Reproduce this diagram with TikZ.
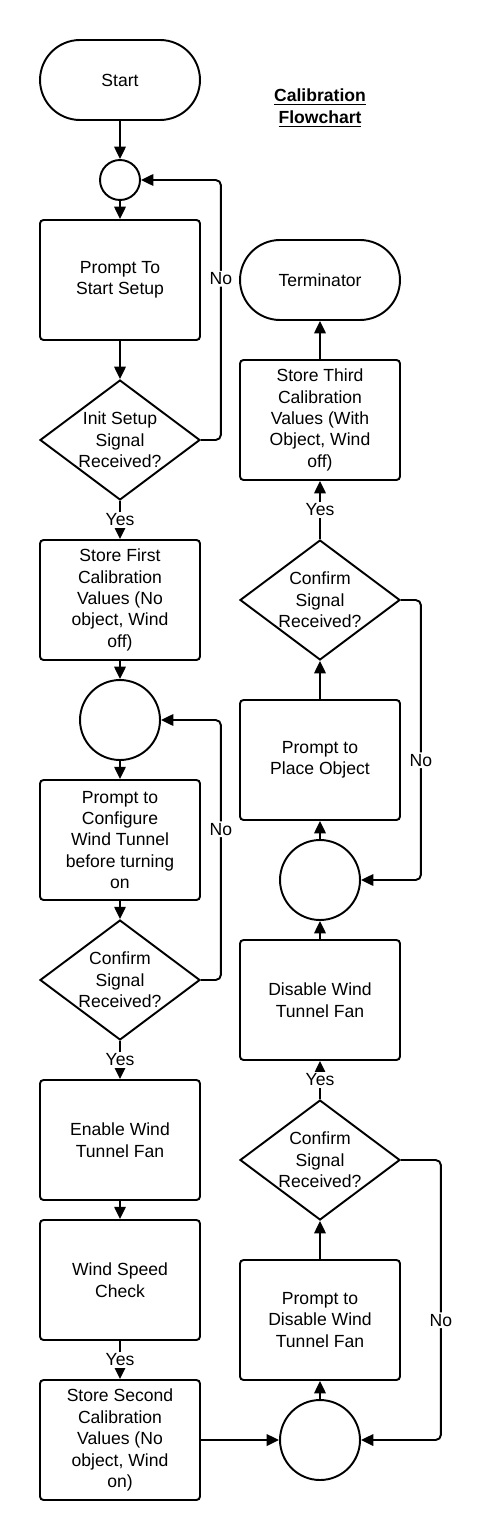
\documentclass[tikz,border=0pt]{standalone}
\usepackage{fontspec}
\setmainfont{Liberation Sans}
\usetikzlibrary{positioning, shapes.geometric, arrows, arrows.meta}

\begin{document}
\begin{tikzpicture}[x=0.02cm, y=-0.02cm, line width=1.1pt,
        every node/.style={font=\fontsize{10}{12.2}\selectfont},
        terminal/.style={draw, rounded corners=0.8cm, minimum width=3.2cm, minimum height=1.6cm},
        process/.style={draw, rounded corners=2pt, minimum width=3.2cm, minimum height=2.4cm, align=center},
        decision/.style={draw, diamond, inner sep=0pt, minimum width=3.2cm, minimum height=2.4cm},
        junction/.style={draw, circle, inner sep=0pt},
        flow/.style={-{Triangle[length=7pt, width=6.5pt]}, rounded corners=3pt},
        tag/.style={fill=white, inner sep=1pt}]
        \useasboundingbox (0, 0) rectangle (491, 1540);

        \node (title) at (320, 108) [align=center] {\textbf{\underline{Calibration}}\\\textbf{\underline{Flowchart}}};

        \node [terminal] (start) at (120, 80) {Start};
        \node [junction, minimum size=0.8cm] (join1) at (120, 180) {};
        \node [process] (prompt) at (120, 280) {Prompt To\\Start Setup};
        \node [decision, label={[align=center]center:Init Setup\\Signal\\Received?}] (init) at (120, 440) {};
        \node [process] (first) at (120, 600) {Store First\\Calibration\\Values (No\\object, Wind\\off)};
        \node [junction, minimum size=1.6cm] (join2) at (120, 720) {};
        \node [process] (config) at (120, 840) {Prompt to\\Configure\\Wind Tunnel\\before turning\\on};
        \node [decision, label={[align=center]center:Confirm\\Signal\\Received?}] (conf1) at (120, 980) {};
        \node [process] (enable) at (120, 1140) {Enable Wind\\Tunnel Fan};
        \node [process] (speed) at (120, 1280) {Wind Speed\\Check};
        \node [process] (second) at (120, 1440) {Store Second\\Calibration\\Values (No\\object, Wind\\on)};

        \node [junction, minimum size=1.6cm] (join3) at (320, 1440) {};
        \node [process] (off) at (320, 1320) {Prompt to\\Disable Wind\\Tunnel Fan};
        \node [decision, label={[align=center]center:Confirm\\Signal\\Received?}] (conf2) at (320, 1160) {};
        \node [process] (disable) at (320, 1000) {Disable Wind\\Tunnel Fan};
        \node [junction, minimum size=1.6cm] (join4) at (320, 880) {};
        \node [process] (place) at (320, 760) {Prompt to\\Place Object};
        \node [decision, label={[align=center]center:Confirm\\Signal\\Received?}] (conf3) at (320, 600) {};
        \node [process] (third) at (320, 420) {Store Third\\Calibration\\Values (With\\Object, Wind\\off)};
        \node [terminal] (term) at (320, 280) {Terminator};

        \draw [flow] (start) -- (join1);
        \draw [flow] (join1) -- (prompt);
        \draw [flow] (prompt) -- (init);
        \draw [flow] (init) -- (first) node [midway, tag] {Yes};
        \draw [flow] (init.east) -- ++(20, 0) |- (join1.east) node [pos=0.31, tag] {No};
        \draw [flow] (first) -- (join2);
        \draw [flow] (join2) -- (config);
        \draw [flow] (config) -- (conf1);
        \draw [flow] (conf1) -- (enable) node [midway, tag] {Yes};
        \draw [flow] (conf1.east) -- ++(20, 0) |- (join2.east) node [pos=0.29, tag] {No};
        \draw [flow] (enable) -- (speed);
        \draw [flow] (speed) -- (second) node [midway, tag] {Yes};
        \draw [flow] (second) -- (join3);

        \draw [flow] (join3) -- (off);
        \draw [flow] (off) -- (conf2);
        \draw [flow] (conf2) -- (disable) node [midway, tag] {Yes};
        \draw [flow] (conf2.east) -- ++(40, 0) |- (join3.east) node [pos=0.286, tag] {No};
        \draw [flow] (disable) -- (join4);
        \draw [flow] (join4) -- (place);
        \draw [flow] (place) -- (conf3);
        \draw [flow] (conf3) -- (third) node [midway, tag] {Yes};
        \draw [flow] (conf3.east) -- ++(20, 0) |- (join4.east) node [pos=0.286, tag] {No};
        \draw [flow] (third) -- (term);
    \end{tikzpicture}
\end{document}
